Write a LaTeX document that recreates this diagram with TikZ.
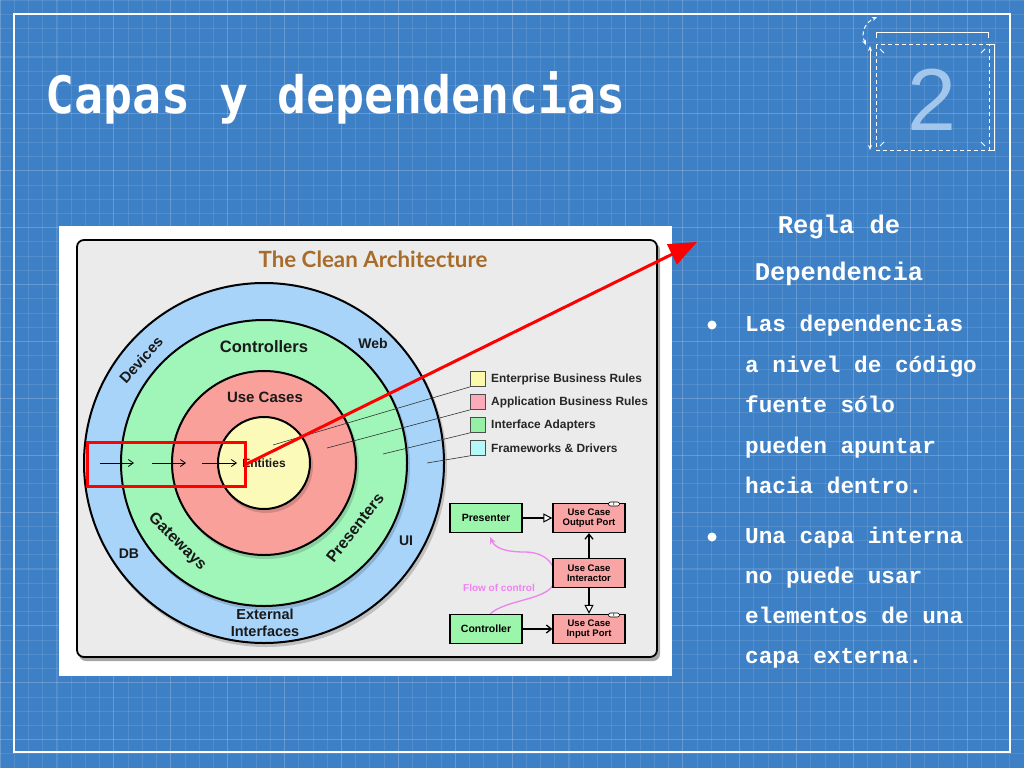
\documentclass[tikz,border=0pt]{standalone}
\usepackage{fontspec}
\setmainfont{Liberation Sans}
\newfontfamily\monofnt{Liberation Mono}
\newfontfamily\titlefnt{DejaVu Sans Mono}
\newfontfamily\cleanfnt{Lato}
\usetikzlibrary{arrows.meta,calc}
\newcommand\fsz[1]{\fontsize{#1}{#1}\selectfont}
\definecolor{bgblue}{RGB}{62,128,198}
\definecolor{numblue}{RGB}{163,198,236}
\definecolor{panelgray}{RGB}{235,235,235}
\definecolor{ringblue}{RGB}{168,212,250}
\definecolor{ringgreen}{RGB}{160,245,185}
\definecolor{ringred}{RGB}{250,160,155}
\definecolor{ringyellow}{RGB}{252,250,185}
\definecolor{lgyellow}{RGB}{250,250,170}
\definecolor{lgpink}{RGB}{250,170,185}
\definecolor{lggreen}{RGB}{150,240,165}
\definecolor{lgcyan}{RGB}{180,248,250}
\definecolor{boxgreen}{RGB}{155,245,170}
\definecolor{boxpink}{RGB}{250,165,165}
\definecolor{cleanbrown}{RGB}{168,108,42}
\definecolor{flowpink}{RGB}{240,130,240}
\begin{document}
\begin{tikzpicture}[x=1pt,y=-1pt,
  ringlabel/.style={font=\bfseries\fsz{15}, text=black!90, inner sep=0},
  legendbox/.style={draw=black!70, line width=0.6pt, minimum size=15pt, inner sep=0},
  legendtext/.style={anchor=west, font=\bfseries\fsz{11.9}, text=black!85, inner sep=0},
  leader/.style={draw=black!80, line width=0.6pt},
  flowbox/.style={draw=black, line width=1.3pt, minimum width=72pt, minimum height=29pt, inner sep=0, font=\bfseries\fsz{9.5}, align=center},
  bodyline/.style={anchor=base west, inner sep=0, text=white, font=\monofnt\bfseries\fsz{22.7}},
  headline/.style={anchor=base, inner sep=0, text=white, font=\monofnt\bfseries\fsz{25.5}},
  bulletdot/.style={circle, fill=white, minimum size=9pt, inner sep=0},
  ringline/.style={draw=black, line width=2pt},
  openarrow/.style={-{Triangle[open,fill=white,length=9pt,width=9pt,line width=1pt]}, line width=1.3pt},
  barbarrow/.style={-{Straight Barb[length=5pt,width=8pt]}, line width=1.3pt},
  deco/.style={white, line width=1pt},
  decodash/.style={white, line width=1pt, dash pattern=on 4pt off 3pt}
]
\useasboundingbox (0,0) rectangle (1024,768);
\fill[bgblue] (0,0) rectangle (1024,768);
% grid
\foreach \i in {0,...,72} {\draw[white, opacity=0.10, line width=0.6pt] ({\i*14.2222},0) -- ({\i*14.2222},768);}
\foreach \j in {0,...,54} {\draw[white, opacity=0.10, line width=0.6pt] (0,{\j*14.2222}) -- (1024,{\j*14.2222});}
\foreach \i in {0,4,...,72} {\draw[white, opacity=0.12, line width=1pt] ({\i*14.2222},0) -- ({\i*14.2222},768);}
\foreach \j in {0,4,...,54} {\draw[white, opacity=0.12, line width=1pt] (0,{\j*14.2222}) -- (1024,{\j*14.2222});}
% frame
\draw[white, line width=1.5pt] (14,14) rectangle (1010,752);

% title
\node[anchor=base west, inner sep=0, text=white, font=\titlefnt\bfseries\fsz{48.2}] (title) at (45,113) {\scalebox{1}[1.07]{Capas y dependencias}};

% top-right decoration
\draw[deco] (876,38) -- (876,33) -- (988,33) -- (988,38);
\draw[decodash] (876,45) rectangle (989,150);
\draw[deco] (990,45) -- (994,45) -- (994,150) -- (990,150);
\draw[deco, {Stealth[length=5pt,width=4pt]}-{Stealth[length=5pt,width=4pt]}] (870,46) -- (870,150);
\draw[decodash, {Stealth[length=5pt,width=4pt]}-{Stealth[length=5pt,width=4pt]}] (866,45) .. controls (860,32) and (866,22) .. (877,17);
\draw[deco] (880,49) -- (884,53);
\draw[deco] (985,49) -- (981,53);
\draw[deco] (880,146) -- (884,142);
\draw[deco] (985,146) -- (981,142);
\node[anchor=base, inner sep=0, text=numblue, font=\fsz{88}] (num) at (932,130) {2};

% picture panel
\fill[white] (59,226) rectangle (672,676);
\fill[black, opacity=0.35, rounded corners=7pt] (79,243) rectangle (660,661);
\filldraw[fill=panelgray, draw=black, line width=1.8pt, rounded corners=7pt] (77,240) rectangle (657,657);
\node[anchor=base, inner sep=0, text=cleanbrown, font=\cleanfnt\bfseries\fsz{22.3}] (cleantitle) at (373,267) {The Clean Architecture};

% rings
\coordinate (ctr) at (264,463);
\fill[black, opacity=0.18] (266,466) circle[radius=181];
\filldraw[fill=ringblue, ringline] (ctr) circle[radius=180];
\fill[black, opacity=0.15] (266,466) circle[radius=144];
\filldraw[fill=ringgreen, ringline] (ctr) circle[radius=143];
\fill[black, opacity=0.15] (266,466) circle[radius=93];
\filldraw[fill=ringred, ringline] (ctr) circle[radius=92];
\fill[black, opacity=0.15] (266,466) circle[radius=47];
\filldraw[fill=ringyellow, ringline] (ctr) circle[radius=46];

% ring labels
\node[ringlabel, font=\bfseries\fsz{16.5}] (lcontrollers) at (264,347) {Controllers};
\node[ringlabel] (lusecases) at (265,397) {Use Cases};
\node[ringlabel, font=\bfseries\fsz{12}] (lentities) at (264,463) {Entities};
\node[ringlabel, font=\bfseries\fsz{14}] (lweb) at (373,343) {Web};
\node[ringlabel, rotate=48] (ldevices) at (141,360) {Devices};
\node[ringlabel, font=\bfseries\fsz{16}, rotate=-45] (lgateways) at (177,542) {Gateways};
\node[ringlabel, font=\bfseries\fsz{16}, rotate=52] (lpresenters) at (355,528) {Presenters};
\node[ringlabel, font=\bfseries\fsz{14}] (ldb) at (129,554) {DB};
\node[ringlabel, font=\bfseries\fsz{14}] (lui) at (406,541) {UI};
\node[ringlabel, font=\bfseries\fsz{14.5}, align=center] (lext) at (265,623) {External\\[3pt]Interfaces};

% legend
\node[legendbox, fill=lgyellow] (sq1) at (478,379) {};
\node[legendbox, fill=lgpink] (sq2) at (478,402) {};
\node[legendbox, fill=lggreen] (sq3) at (478,425) {};
\node[legendbox, fill=lgcyan] (sq4) at (478,448) {};
\node[legendtext] (t1) at (491,379) {Enterprise Business Rules};
\node[legendtext] (t2) at (491,402) {Application Business Rules};
\node[legendtext] (t3) at (491,425) {Interface Adapters};
\node[legendtext] (t4) at (491,448) {Frameworks \& Drivers};
\coordinate (e1) at (273,445);
\coordinate (e2) at (327,448);
\coordinate (e3) at (383,454);
\coordinate (e4) at (427,463);
\draw[leader] (sq1.south west) -- (e1);
\draw[leader] (sq2.south west) -- (e2);
\draw[leader] (sq3.south west) -- (e3);
\draw[leader] (sq4.south west) -- (e4);

% flow diagram
\draw[flowpink, line width=1.3pt, -{Stealth[length=7pt,width=6pt]}] (490,614) .. controls (505,600) and (545,600) .. (553,585) .. controls (560,565) and (545,552) .. (525,552) .. controls (505,552) and (495,548) .. (490,537);
\node[flowbox, fill=boxgreen, font=\bfseries\fsz{10.5}] (pres) at (486,518) {Presenter};
\node[flowbox, fill=boxpink] (outp) at (589,518) {Use Case\\Output Port};
\node[flowbox, fill=boxpink] (inter) at (589,573) {Use Case\\Interactor};
\node[flowbox, fill=boxgreen, font=\bfseries\fsz{10.5}] (ctrl) at (486,629) {Controller};
\node[flowbox, fill=boxpink] (inp) at (589,629) {Use Case\\Input Port};
\node[inner sep=0, text=flowpink, font=\bfseries\fsz{10}] (flowtxt) at (499,588) {Flow of control};
\draw[openarrow] (pres.east) -- (outp.west);
\draw[barbarrow] (inter.north) -- (outp.south);
\draw[openarrow] (inter.south) -- (inp.north);
\draw[barbarrow] (ctrl.east) -- (inp.west);
\node[draw=black, fill=white, line width=0.6pt, rounded corners=2pt, minimum width=11pt, minimum height=4pt, inner sep=0, font=\bfseries\fsz{4}] (i1) at (614,504) {I};
\node[draw=black, fill=white, line width=0.6pt, rounded corners=2pt, minimum width=11pt, minimum height=4pt, inner sep=0, font=\bfseries\fsz{4}] (i2) at (614,615) {I};

% red highlight
\coordinate (a0) at (100,463);
\coordinate (a1) at (134,463);
\coordinate (b0) at (152,463);
\coordinate (b1) at (186,463);
\coordinate (c0) at (202,463);
\coordinate (c1) at (237,463);
\draw[line width=0.8pt, -{Straight Barb[length=5pt,width=7pt]}] (a0) -- (a1);
\draw[line width=0.8pt, -{Straight Barb[length=5pt,width=7pt]}] (b0) -- (b1);
\draw[line width=0.8pt, -{Straight Barb[length=5pt,width=7pt]}] (c0) -- (c1);
\node[draw=red, line width=3pt, minimum width=158pt, minimum height=44pt, inner sep=0] (redrect) at (166,464) {};
\coordinate (tip) at (697,242);
\draw[red, line width=3pt, -{Triangle[length=28pt,width=22pt]}] (redrect.east) -- (tip);

% right text
\node[headline] (h1) at (839,233) {Regla de};
\node[headline] (h2) at (839,280) {Dependencia};
\node[bulletdot] (d1) at (712,325) {};
\node[bulletdot] (d2) at (712,537) {};
\node[bodyline] (l1) at (745,331) {Las dependencias};
\node[bodyline] (l2) at (745,372) {a nivel de código};
\node[bodyline] (l3) at (745,412) {fuente sólo};
\node[bodyline] (l4) at (745,453) {pueden apuntar};
\node[bodyline] (l5) at (745,493) {hacia dentro.};
\node[bodyline] (l6) at (745,543) {Una capa interna};
\node[bodyline] (l7) at (745,583) {no puede usar};
\node[bodyline] (l8) at (745,623) {elementos de una};
\node[bodyline] (l9) at (745,663) {capa externa.};
\end{tikzpicture}
\end{document}
